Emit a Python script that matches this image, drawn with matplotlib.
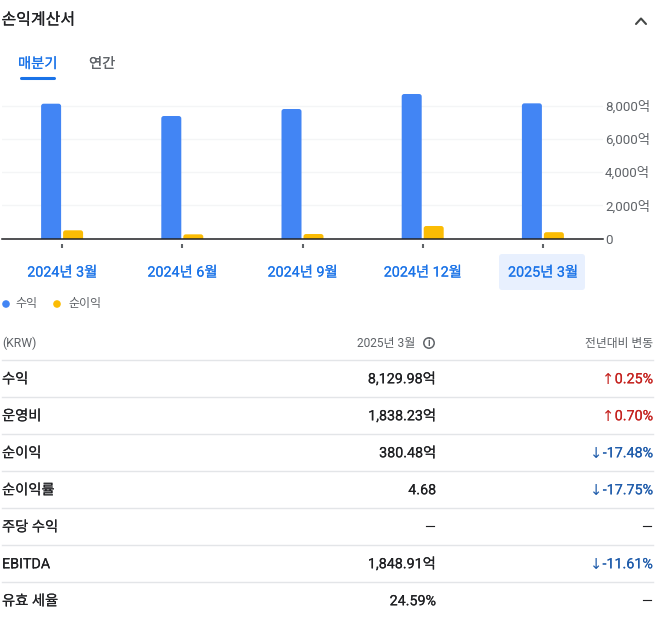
import matplotlib

matplotlib.use("Agg")
import matplotlib.pyplot as plt
import matplotlib.patheffects as pe
from matplotlib.patches import FancyBboxPatch, Circle

W, H = 663, 630
FONT = ["Roboto", "Noto Sans CJK KR", "DejaVu Sans"]

BLUE = "#4285F4"
YELLOW = "#FBBC04"
LINK = "#1A73E8"
DARK = "#202124"
GREY = "#5F6368"
RED = "#C5221F"
DOWN = "#1F5CAB"
LINE = "#E3E5E8"

quarters = ["2024년 3월", "2024년 6월", "2024년 9월", "2024년 12월", "2025년 3월"]
revenue = [8108, 7368, 7789, 8692, 8130]
net_income = [493, 250, 270, 752, 380]
y_ticks = [0, 2000, 4000, 6000, 8000]
y_labels = ["0", "2,000억", "4,000억", "6,000억", "8,000억"]

row_names = ["수익", "운영비", "순이익", "순이익률", "주당 수익", "EBITDA", "유효 세율"]
row_values = ["8,129.98억", "1,838.23억", "380.48억", "4.68", "—", "1,848.91억", "24.59%"]
row_changes = ["↑0.25%", "↑0.70%", "↓-17.48%", "↓-17.75%", "—", "↓-11.61%", "—"]

plt.rcParams["font.family"] = FONT


def medium(color, amount=0.3):
    # no medium weight in the installed fonts, thicken the regular one a little
    return [pe.withStroke(linewidth=amount, foreground=color)]


def px_text(ax, x, y, s, size, color=DARK, ha="left", stroke=0.0):
    # size is in pixels, dpi is 100
    t = ax.text(x, y, s, fontsize=size * 0.72, color=color, ha=ha, va="center")
    if stroke:
        t.set_path_effects(medium(color, stroke))
    return t


def rounded_bars(ax, xs, values, width, color, radius_x, aspect):
    for x, v in zip(xs, values):
        # start at the radius below zero so the axes clips the lower corners flat
        box = FancyBboxPatch(
            (x - width / 2 + radius_x, 0),
            width - 2 * radius_x,
            v - radius_x * aspect,
            boxstyle=f"round,pad={radius_x},rounding_size={radius_x}",
            mutation_aspect=aspect,
            fc=color,
            ec="none",
            zorder=3,
        )
        ax.add_patch(box)


fig = plt.figure(figsize=(W / 100, H / 100), dpi=100)

# page layer in pixel coordinates
page = fig.add_axes([0, 0, 1, 1])
page.set_xlim(0, W)
page.set_ylim(H, 0)
page.axis("off")

px_text(page, 1.5, 20, "손익계산서", 16, DARK, stroke=0.15)
page.plot([636, 641, 646], [24, 18.5, 24], color="#444746", lw=1.5, solid_capstyle="round")

px_text(page, 18, 64, "매분기", 14.3, LINK, stroke=0.1)
px_text(page, 89, 64, "연간", 14.3, GREY, stroke=0.1)
page.plot([21, 54], [78, 78], color=LINK, lw=2.2, solid_capstyle="round")

page.add_patch(FancyBboxPatch((501, 256), 82, 32, boxstyle="round,pad=2,rounding_size=3",
                              fc="#E8F0FE", ec="none"))

# chart layer, 2..603 px wide, baseline at 238.5 px
px_per_value = 133 / 8000
y_max = 9000
ax_left, ax_right, ax_base = 2, 603, 238.5
ax_h = y_max * px_per_value
ax = fig.add_axes([ax_left / W, 1 - ax_base / H, (ax_right - ax_left) / W, ax_h / H])
ax.patch.set_alpha(0)
ax.set_xlim(-0.5, len(quarters) - 0.5)
ax.set_ylim(0, y_max)

px_per_x = (ax_right - ax_left) / len(quarters)
aspect = (1 / px_per_value) / (1 / px_per_x)
bar_w = 20 / px_per_x
offset = 11 / px_per_x
radius = 2.5 / px_per_x

xs = list(range(len(quarters)))
rounded_bars(ax, [x - offset for x in xs], revenue, bar_w, BLUE, radius, aspect)
rounded_bars(ax, [x + offset for x in xs], net_income, bar_w, YELLOW, radius, aspect)

for side in ["top", "left", "right"]:
    ax.spines[side].set_visible(False)
ax.spines["bottom"].set_color("#202124")
ax.spines["bottom"].set_linewidth(1.1)
ax.spines["bottom"].set_zorder(5)

ax.set_yticks(y_ticks, y_labels)
ax.yaxis.tick_right()
ax.tick_params(axis="y", length=0, pad=1.5, labelsize=9.6, labelcolor=GREY)
ax.grid(axis="y", color="#F4F5F6", lw=1)
ax.set_axisbelow(True)

ax.set_xticks(xs, quarters)
ax.tick_params(axis="x", length=0, pad=19.5, labelsize=10.3, labelcolor=LINK)
for lab in ax.get_xticklabels():
    lab.set_path_effects(medium(LINK, 0.1))
ax.vlines(xs, -580, -340, color="#5F6368", lw=1.5, clip_on=False)

# legend
page.scatter([6, 57], [304, 304], s=30, c=[BLUE, YELLOW], linewidths=0)
px_text(page, 15.5, 303.5, "수익", 12, GREY)
px_text(page, 68.5, 303.5, "순이익", 12, GREY)

# table
px_text(page, 2, 343, "(KRW)", 12.2, GREY)
px_text(page, 415, 343, "2025년 3월", 12, GREY, ha="right")
px_text(page, 653, 343, "전년대비 변동", 11.8, GREY, ha="right")
page.add_patch(Circle((429, 343), 5.2, fc="none", ec=GREY, lw=1.1))
page.text(429, 343, "i", fontsize=7, color=GREY, ha="center", va="center", weight="bold")

first_line = 360
row_h = 37
page.plot([2, 653], [first_line, first_line], color=LINE, lw=1)
renderer = fig.canvas.get_renderer()
for i, (name, value, change) in enumerate(zip(row_names, row_values, row_changes)):
    mid = first_line + row_h * i + row_h / 2 + 0.8
    px_text(page, 2, mid, name, 14.3, DARK, stroke=0.1)
    px_text(page, 436, mid, value, 14.3, DARK, ha="right", stroke=0.1)
    if change[0] in "↑↓":
        color = RED if change[0] == "↑" else DOWN
        t = px_text(page, 653, mid, change[1:], 14.3, color, ha="right", stroke=0.1)
        left = t.get_window_extent(renderer).x0
        page.text(left - 0.5, mid, change[0], fontsize=10.5, color=color, ha="right", va="center",
                  family="DejaVu Sans")
    else:
        px_text(page, 653, mid, change, 14.3, DARK, ha="right", stroke=0.1)
    if i < len(row_names) - 1:
        y = first_line + row_h * (i + 1)
        page.plot([2, 653], [y, y], color=LINE, lw=1)

fig.savefig("out.png", dpi=100)
